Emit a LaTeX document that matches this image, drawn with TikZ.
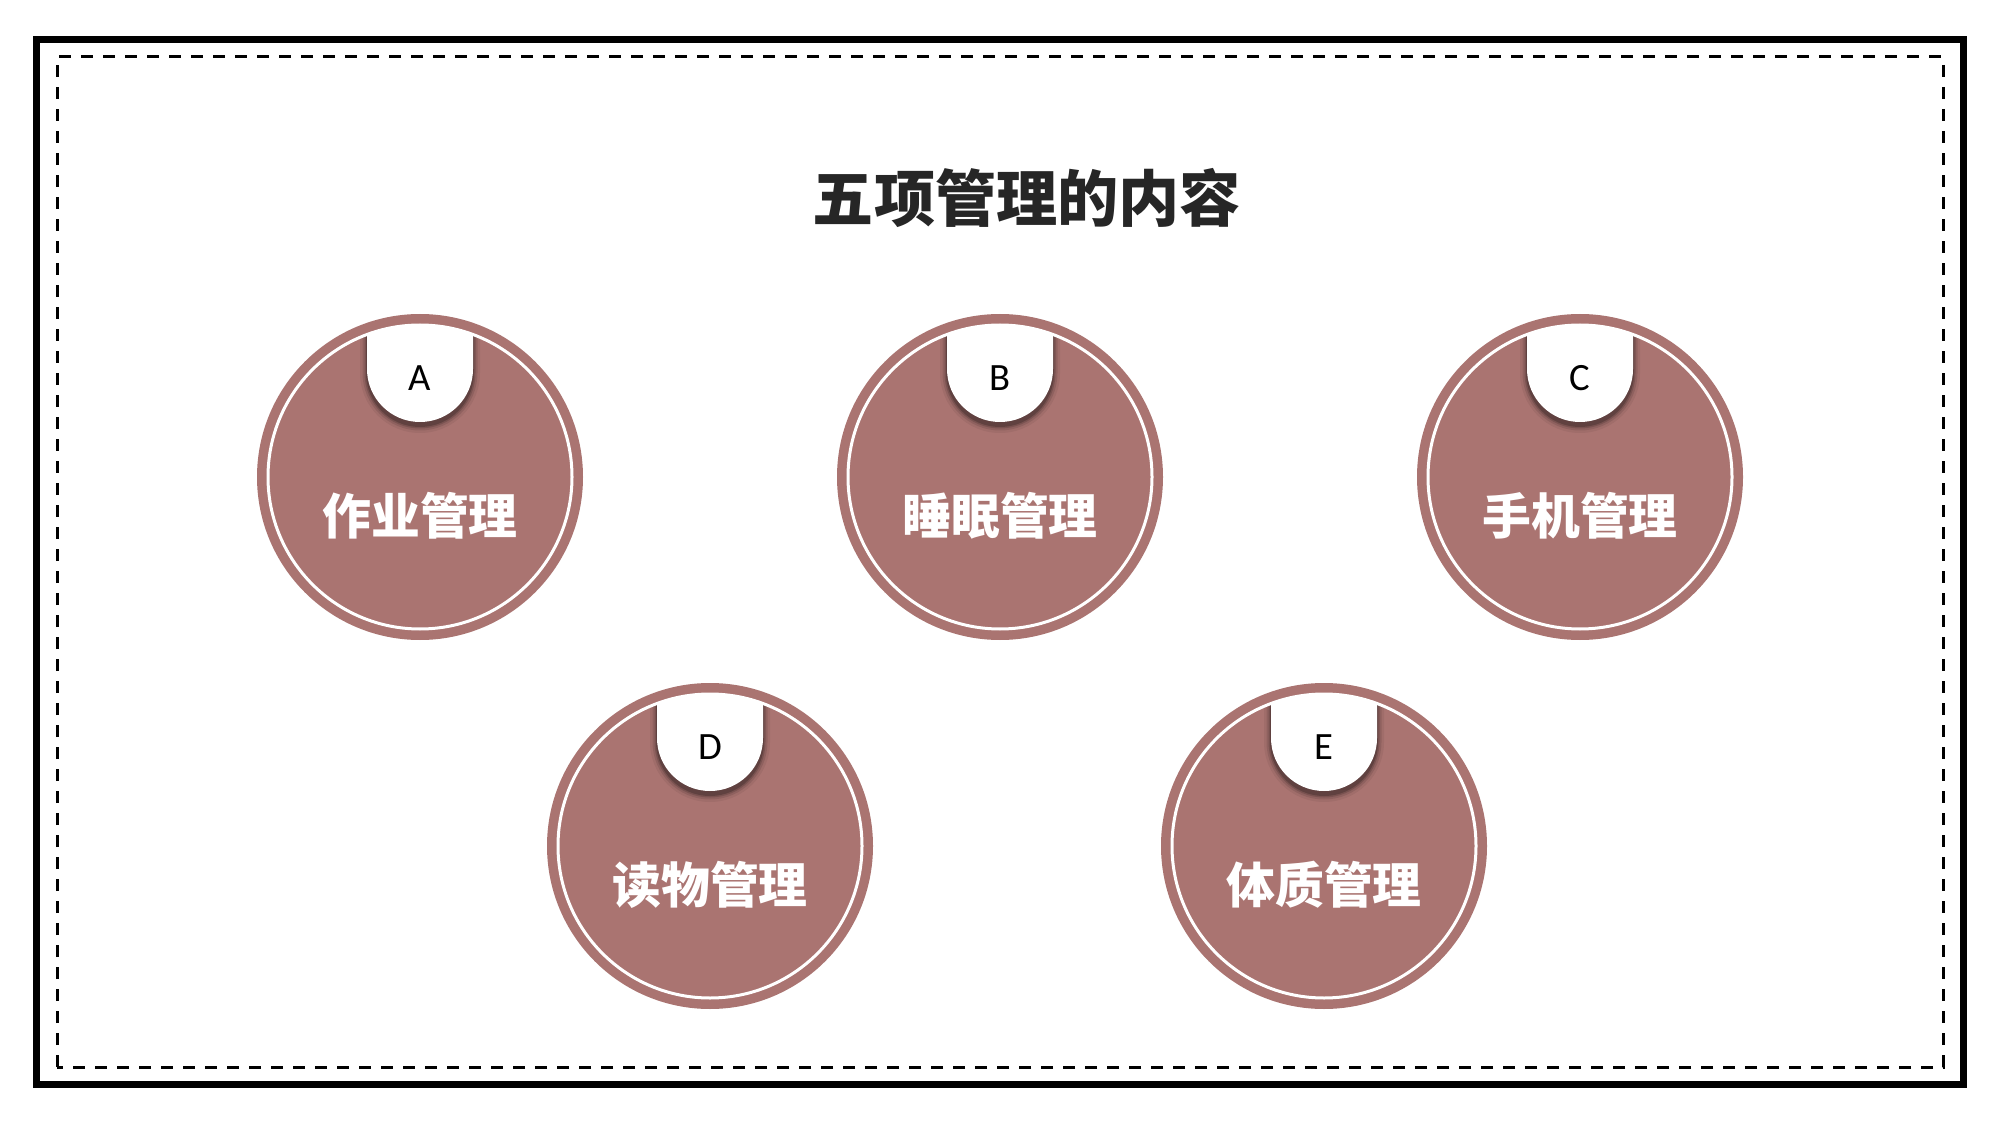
\documentclass[tikz,border=0pt]{standalone}
\usepackage{fontspec}
\setmainfont{Carlito}
\newfontfamily\cjk{Noto Sans CJK SC}
\usepackage{xcolor}
\usepackage{tikz}
\usetikzlibrary{positioning}

\definecolor{rosebrown}{RGB}{170,116,113}
\definecolor{titlegray}{RGB}{38,38,38}

\begin{document}
\begin{tikzpicture}
    \tikzstyle{topic} = [circle, fill=rosebrown, minimum size=3.26cm, inner sep=0pt]
    \tikzstyle{topictext} = [text=white, font=\cjk\bfseries\fontsize{13.9pt}{16pt}\selectfont]
    \tikzstyle{tabtext} = [text=black, font=\fontsize{11pt}{13pt}\selectfont]
    \tikzstyle{ring} = [draw=white, line width=0.03cm]

    \useasboundingbox (0,0) rectangle (20,11.25);
    % frames
    \draw [line width=0.065cm] (0.365,0.405) rectangle (19.635,10.855);
    \draw [line width=0.03cm, dash pattern=on 0.12cm off 0.1cm] (0.57,0.58) rectangle (19.43,10.68);

    \node [text=titlegray, font=\cjk\bfseries\fontsize{17.4pt}{20pt}\selectfont] (title) at (10.27,9.27) {五项管理的内容};

    % circles
    \node [topic] (homework) at (4.2,6.48) {};
    \node [topic] (sleep) at (10.0,6.48) {};
    \node [topic] (phone) at (15.8,6.48) {};
    \node [topic] (reading) at (7.1,2.79) {};
    \node [topic] (fitness) at (13.24,2.79) {};

    % tabs with shadow, white ring
    \foreach \n in {homework,sleep,phone,reading,fitness} {
        \begin{scope}[shift={(\n.center)}]
            \begin{scope}
                \clip (0,0) circle (1.52);
                \foreach \s/\o in {0.07/0.06, 0.045/0.1, 0.025/0.15, 0.01/0.2}
                    \fill [black, opacity=\o] (-0.53-\s,2) -- (-0.53-\s,1.04) arc (180:360:0.53+\s) -- (0.53+\s,2) -- cycle;
                \fill [white] (-0.53,2) -- (-0.53,1.08) arc (180:360:0.53) -- (0.53,2) -- cycle;
            \end{scope}
            \draw [ring] (0,0) circle (1.52);
        \end{scope}
    }

    % letters
    \node [tabtext] (homework-tab) at ([yshift=0.99cm]homework.center) {A};
    \node [tabtext] (sleep-tab) at ([yshift=0.99cm]sleep.center) {B};
    \node [tabtext] (phone-tab) at ([yshift=0.99cm]phone.center) {C};
    \node [tabtext] (reading-tab) at ([yshift=0.99cm]reading.center) {D};
    \node [tabtext] (fitness-tab) at ([yshift=0.99cm]fitness.center) {E};

    % names
    \node [topictext] (homework-text) at ([yshift=-0.39cm]homework.center) {作业管理};
    \node [topictext] (sleep-text) at ([yshift=-0.39cm]sleep.center) {睡眠管理};
    \node [topictext] (phone-text) at ([yshift=-0.39cm]phone.center) {手机管理};
    \node [topictext] (reading-text) at ([yshift=-0.39cm]reading.center) {读物管理};
    \node [topictext] (fitness-text) at ([yshift=-0.39cm]fitness.center) {体质管理};
\end{tikzpicture}
\end{document}
